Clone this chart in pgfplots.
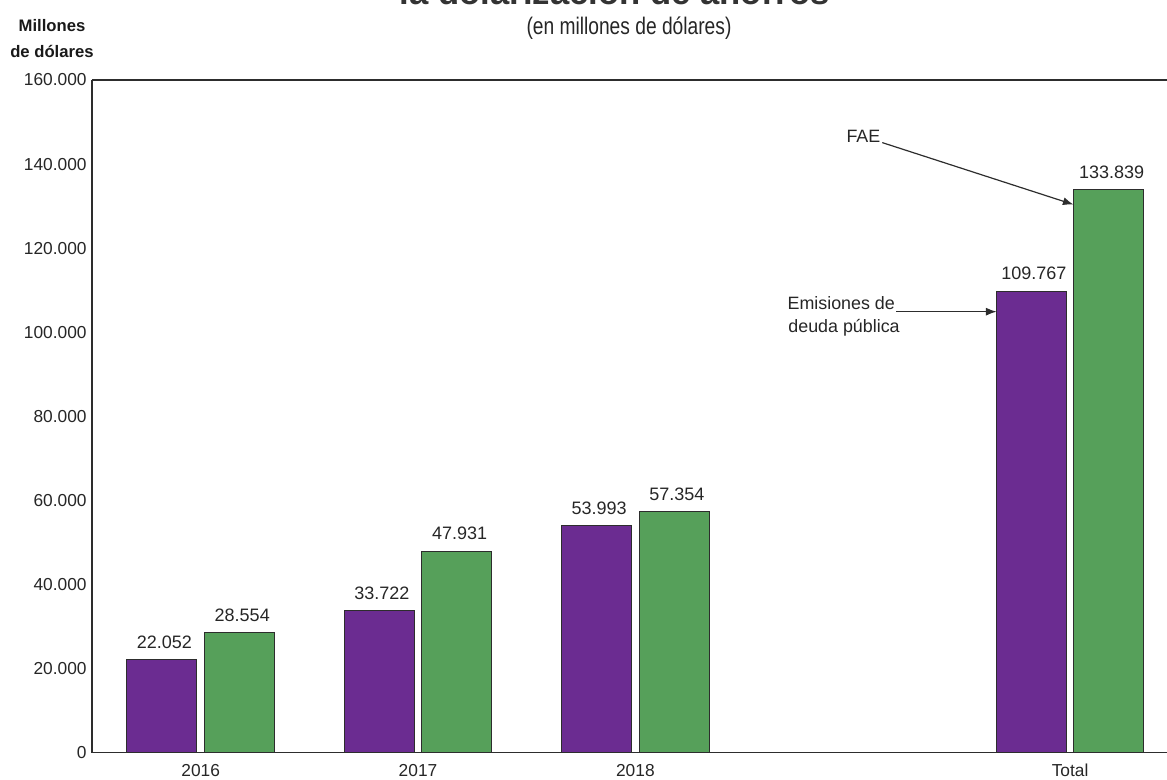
\documentclass[border=0pt]{standalone}
\usepackage{pgfplots}
\pgfplotsset{compat=1.18}
\usepackage{fontspec}
\setmainfont{Liberation Sans}
\newfontfamily\condfont[FakeStretch=0.8]{Liberation Sans}
\usetikzlibrary{arrows.meta}
\definecolor{barpurple}{RGB}{107,44,145}
\definecolor{bargreen}{RGB}{86,160,90}
\definecolor{axgray}{RGB}{45,45,45}
\begin{document}
\begin{tikzpicture}
\begin{axis}[
  name=ax,
  scale only axis,
  width=806.25pt, height=504.4pt,
  ybar,
  xmin=-0.5, xmax=4.446,
  ymin=0, ymax=160000,
  xtick={0,1,2,4},
  xticklabels={2016,2017,2018,Total},
  ytick={0,20000,40000,60000,80000,100000,120000,140000,160000},
  scaled y ticks=false,
  /pgf/number format/.cd, 1000 sep={.}, fixed, precision=0, assume math mode=true,
  /pgfplots/.cd,
  axis x line*=box,
  axis y line*=left,
  axis line style={axgray, line width=1.1pt},
  major tick length=0pt,
  tick label style={font=\fontsize{13}{15}\selectfont, text=black!85},
  xticklabel style={yshift=-5.25pt},
  yticklabel style={xshift=-0.5pt},
  bar width=0.322,
  clip=false,
  nodes near coords,
  nodes near coords style={font=\fontsize{13.5}{15}\selectfont, text=black!85, anchor=south, inner sep=0pt, yshift=8pt, xshift=2pt},
]
\addplot[fill=barpurple, draw=axgray, line width=0.75pt, bar shift=-0.179] coordinates {(0,22052) (1,33722) (2,53993) (4,109767)};
\addplot[fill=bargreen, draw=axgray, line width=0.75pt, bar shift=0.179] coordinates {(0,28554) (1,47931) (2,57354) (4,133839)};
\draw[axgray, line width=0.9pt, -{Latex[length=8pt,width=6pt]}] (axis cs:3.136,145100) -- (axis cs:4.016,130360);
\draw[axgray, line width=0.9pt, -{Latex[length=8pt,width=6pt]}] (axis cs:3.20,104880) -- (axis cs:3.662,104880);
\node[anchor=base east, inner sep=0pt, text=black!85, font=\fontsize{13.4}{15}\selectfont] at (axis cs:3.128,145100) {FAE};
\node[anchor=base east, inner sep=0pt, text=black!85, font=\fontsize{13.4}{15}\selectfont] at (axis cs:3.195,105360) {Emisiones de};
\node[anchor=base west, inner sep=0pt, text=black!85, font=\fontsize{13.4}{15}\selectfont] at (axis cs:2.703,99880) {deuda pública};
\end{axis}
\node[anchor=base, inner sep=0pt, text=black!90, font=\bfseries\fontsize{12.5}{14}\selectfont] at ([shift={(-30pt,36pt)}]ax.north west) {Millones};
\node[anchor=base, inner sep=0pt, text=black!90, font=\bfseries\fontsize{12.5}{14}\selectfont] at ([shift={(-30pt,16.5pt)}]ax.north west) {de dólares};
\node[anchor=base, inner sep=0pt, text=black!85, font=\condfont\fontsize{18}{20}\selectfont] at ([shift={(402.75pt,33.75pt)}]ax.north west) {(en millones de dólares)};
\node[anchor=base, inner sep=0pt, overlay, text=black!80, font=\bfseries\fontsize{26}{30}\selectfont] at ([shift={(392pt,56.5pt)}]ax.north west) {la dolarización de ahorros};
\pgfresetboundingbox
\useasboundingbox ([shift={(-69pt,-20.6pt)}]ax.south west) rectangle ([shift={(0pt,60pt)}]ax.north east);
\end{tikzpicture}
\end{document}
